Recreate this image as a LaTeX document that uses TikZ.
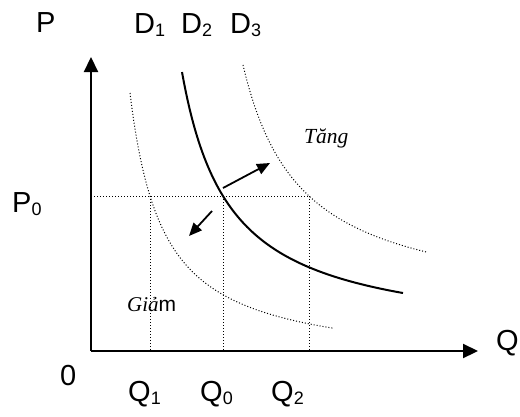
\documentclass[tikz,border=0pt]{standalone}
\usepackage{fontspec}
\setmainfont{Liberation Serif}
\setsansfont{Liberation Sans}
\usetikzlibrary{arrows.meta}
\newcommand{\biglab}[2]{{\sffamily\fontsize{29}{30}\selectfont #1\raisebox{-3pt}{\fontsize{18}{18}\selectfont #2}}}
\begin{document}
\begin{tikzpicture}[x=1pt,y=-1pt,
  axisline/.style={line width=2.2pt,-{Triangle[length=15pt,width=14pt]}},
  shiftarrow/.style={line width=1.8pt,-{Triangle[length=13pt,width=11pt]}},
  guide/.style={line width=1pt,dash pattern=on 1pt off 2pt},
  solidcurve/.style={line width=2pt},
  lab/.style={inner sep=0pt,anchor=base west},
  note/.style={inner sep=0pt,anchor=base west,font=\fontsize{21.5}{22}\selectfont\itshape}]
\useasboundingbox[fill=white] (0,0) rectangle (520,416);
% axes
\coordinate (O) at (91,351);
\coordinate (ytop) at (91,57);
\coordinate (xend) at (478,351);
\draw[axisline] (O) -- (ytop);
\draw[axisline] (O) -- (xend);
% guide lines
\coordinate (p0) at (91,196);
\coordinate (e1) at (150,196);
\coordinate (e0) at (223,196);
\coordinate (e2) at (309,196);
\coordinate (q1) at (150,351);
\coordinate (q0) at (223,351);
\coordinate (q2) at (309,351);
\draw[guide] (p0) -- (e2);
\draw[guide] (e1) -- (q1);
\draw[guide] (e0) -- (q0);
\draw[guide] (e2) -- (q2);
% demand curves
\draw[guide] plot[domain=130:333,samples=120] (\x,{366.5-9052/(\x-96.9)});
\draw[solidcurve] plot[domain=182:403,samples=120] (\x,{340.9-12878/(\x-134.1)});
\draw[guide] plot[domain=243:426,samples=120] (\x,{311.3-14311/(\x-184.9)});
% shift arrows
\coordinate (u1) at (223,188);
\coordinate (u2) at (270,163);
\coordinate (v1) at (212,211);
\coordinate (v2) at (189,236);
\draw[shiftarrow] (u1) -- (u2);
\draw[shiftarrow] (v1) -- (v2);
% labels
\node[lab] (P) at (36,32) {\biglab{P}{}};
\node[lab] (D1) at (134,33) {\biglab{D}{1}};
\node[lab] (D2) at (181,33) {\biglab{D}{2}};
\node[lab] (D3) at (230,33) {\biglab{D}{3}};
\node[lab] (P0) at (12,212) {\biglab{P}{0}};
\node[lab] (zero) at (60,385) {\biglab{0}{}};
\node[lab] (Q1) at (128,401) {\biglab{Q}{1}};
\node[lab] (Q0) at (200,401) {\biglab{Q}{0}};
\node[lab] (Q2) at (271,401) {\biglab{Q}{2}};
\node[lab] (Q) at (496,350) {\biglab{Q}{}};
\node[note] (tang) at (304,143) {Tăng};
\node[inner sep=0pt,anchor=base west] (giam) at (127,311) {\fontsize{21}{22}\selectfont\textit{Giả}\sffamily m};
\end{tikzpicture}
\end{document}
